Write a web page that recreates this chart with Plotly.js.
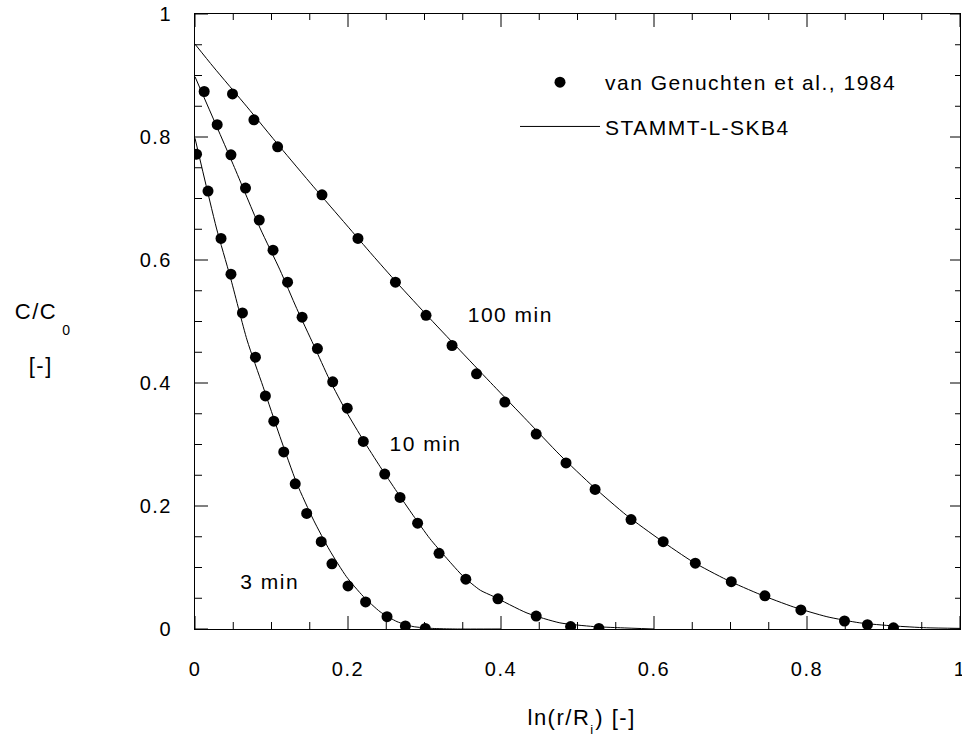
<!DOCTYPE html>
<html>
<head>
<meta charset="utf-8">
<script src="https://cdn.plot.ly/plotly-3.0.1.min.js"></script>
<style>
  html, body { margin: 0; padding: 0; background: #fff; }
  #chart { width: 962px; height: 740px; }
  #chart text { letter-spacing: 1.5px; }
  #chart .legend .scrollbox { clip-path: none !important; }
</style>
</head>
<body>
<div id="chart"></div>
<script>
// ---- measured data points (van Genuchten et al., 1984) ----
const obs3x   = [0.002, 0.017, 0.034, 0.047, 0.062, 0.079, 0.092, 0.103, 0.116, 0.131, 0.146, 0.165, 0.179, 0.200, 0.223, 0.251, 0.275, 0.301];
const obs3y   = [0.772, 0.712, 0.635, 0.577, 0.514, 0.442, 0.379, 0.338, 0.288, 0.236, 0.188, 0.142, 0.106, 0.070, 0.044, 0.020, 0.005, 0.001];
const obs10x  = [0.012, 0.029, 0.047, 0.066, 0.084, 0.102, 0.121, 0.140, 0.160, 0.180, 0.199, 0.220, 0.248, 0.268, 0.291, 0.319, 0.354, 0.396, 0.446, 0.491, 0.528];
const obs10y  = [0.874, 0.820, 0.771, 0.717, 0.665, 0.616, 0.564, 0.507, 0.456, 0.402, 0.359, 0.305, 0.252, 0.214, 0.172, 0.123, 0.081, 0.049, 0.021, 0.004, 0.001];
const obs100x = [0.049, 0.077, 0.108, 0.166, 0.213, 0.262, 0.302, 0.336, 0.368, 0.405, 0.446, 0.485, 0.523, 0.570, 0.612, 0.654, 0.701, 0.745, 0.792, 0.849, 0.879, 0.913];
const obs100y = [0.870, 0.828, 0.784, 0.706, 0.635, 0.564, 0.510, 0.461, 0.415, 0.369, 0.317, 0.270, 0.227, 0.178, 0.142, 0.107, 0.077, 0.054, 0.031, 0.013, 0.007, 0.002];

// ---- model curves (STAMMT-L-SKB4) ----
const mod3x   = [0, 0.028, 0.046, 0.068, 0.089, 0.111, 0.133, 0.155, 0.176, 0.198, 0.220, 0.242, 0.264, 0.285, 0.310, 0.340, 0.400];
const mod3y   = [0.798, 0.652, 0.573, 0.470, 0.394, 0.313, 0.237, 0.177, 0.128, 0.085, 0.053, 0.028, 0.012, 0.004, 0.001, 0.000, 0.000];
const mod10x  = [0, 0.050, 0.085, 0.111, 0.133, 0.155, 0.176, 0.198, 0.220, 0.242, 0.264, 0.285, 0.307, 0.329, 0.351, 0.373, 0.390, 0.434, 0.477, 0.521, 0.556, 0.600];
const mod10y  = [0.898, 0.755, 0.652, 0.584, 0.521, 0.462, 0.405, 0.353, 0.307, 0.264, 0.223, 0.185, 0.147, 0.115, 0.085, 0.063, 0.053, 0.026, 0.010, 0.004, 0.002, 0.000];
const mod100x = [0, 0.024, 0.068, 0.111, 0.155, 0.198, 0.232, 0.264, 0.307, 0.351, 0.390, 0.434, 0.477, 0.521, 0.564, 0.608, 0.651, 0.695, 0.739, 0.782, 0.826, 0.869, 0.913, 0.956, 1.000];
const mod100y = [0.951, 0.914, 0.849, 0.784, 0.719, 0.657, 0.608, 0.563, 0.505, 0.447, 0.396, 0.339, 0.283, 0.231, 0.185, 0.145, 0.109, 0.080, 0.056, 0.036, 0.020, 0.010, 0.005, 0.002, 0.001];

// ---- axis ticks / labels ----
const majorTicks = [0, 0.2, 0.4, 0.6, 0.8, 1];
const majorLabels = ['0', '0.2', '0.4', '0.6', '0.8', '1'];
const minorTicks = [0.05, 0.1, 0.15, 0.25, 0.3, 0.35, 0.45, 0.5, 0.55, 0.65, 0.7, 0.75, 0.85, 0.9, 0.95];

const curveLabels = ['3 min', '10 min', '100 min'];
const curveLabelX = [0.098, 0.301, 0.413];
const curveLabelY = [0.077, 0.302, 0.511];
const legendNames = ['van Genuchten et al., 1984', 'STAMMT-L-SKB4'];

const FONT = 'Liberation Sans, Arial, sans-serif';
const PL = 195, PT = 14, PW = 765, PH = 615;   // plot frame in px
const px = v => (v - PL) / PW;                // pixel -> paper x
const py = v => (PT + PH - v) / PH;            // pixel -> paper y

function obsTrace(x, y, show) {
  return { x: x, y: y, type: 'scatter', mode: 'markers', name: legendNames[0],
    legendgroup: 'obs', showlegend: show, legendrank: 1,
    marker: { color: '#000', size: 11, symbol: 'circle' } };
}
function modTrace(x, y, show) {
  return { x: x, y: y, type: 'scatter', mode: 'lines', name: legendNames[1],
    legendgroup: 'mod', showlegend: show, legendrank: 2,
    line: { color: '#000', width: 1, shape: 'spline', smoothing: 0.6 } };
}

// inside tick marks on all four sides, built from the tick value arrays
// (axis range is [0,1] on both axes, so pixel lengths convert directly)
const tickLen = { b: [13, 7], t: [13, 6], l: [13, 7], r: [10, 5] };
const tx = [], ty = [];
function addTick(side, v, len) {
  if (side === 'b') { tx.push(v, v, null); ty.push(0, len / PH, null); }
  if (side === 't') { tx.push(v, v, null); ty.push(1, 1 - len / PH, null); }
  if (side === 'l') { tx.push(0, len / PW, null); ty.push(v, v, null); }
  if (side === 'r') { tx.push(1, 1 - len / PW, null); ty.push(v, v, null); }
}
for (const side of ['b', 't', 'l', 'r']) {
  majorTicks.forEach(v => addTick(side, v, tickLen[side][0]));
  minorTicks.forEach(v => addTick(side, v, tickLen[side][1]));
}
const tickTrace = { x: tx, y: ty, type: 'scatter', mode: 'lines', showlegend: false,
  hoverinfo: 'skip', cliponaxis: false, connectgaps: false,
  line: { color: '#000', width: 1 } };

const data = [
  modTrace(mod3x, mod3y, true),
  modTrace(mod10x, mod10y, false),
  modTrace(mod100x, mod100y, false),
  obsTrace(obs3x, obs3y, true),
  obsTrace(obs10x, obs10y, false),
  obsTrace(obs100x, obs100y, false),
  tickTrace
];

function axis(standoff) {
  return {
    range: [0, 1], tickmode: 'array', tickvals: majorTicks, ticktext: majorLabels,
    showgrid: false, zeroline: false,
    showline: true, linecolor: '#000', linewidth: 1, mirror: true,
    ticks: '',
    tickfont: { family: FONT, size: 20, color: '#000' },
    ticklabeloverflow: 'allow',
    ticklabelstandoff: standoff
  };
}

const annotations = [];
for (let i = 0; i < curveLabels.length; i++) {
  annotations.push({ x: curveLabelX[i], y: curveLabelY[i], xref: 'x', yref: 'y',
    text: curveLabels[i], showarrow: false, xanchor: 'center', yanchor: 'middle',
    font: { family: FONT, size: 21, color: '#000' } });
}
// y axis title: C/C0 [-]
annotations.push({ x: px(57), y: py(311), xref: 'paper', yref: 'paper', text: 'C/C',
  showarrow: false, xanchor: 'right', yanchor: 'middle', font: { family: FONT, size: 22, color: '#000' } });
annotations.push({ x: px(67), y: py(330), xref: 'paper', yref: 'paper', text: '0',
  showarrow: false, xanchor: 'center', yanchor: 'middle', font: { family: FONT, size: 14, color: '#000' } });
annotations.push({ x: px(41), y: py(365), xref: 'paper', yref: 'paper', text: '[-]',
  showarrow: false, xanchor: 'center', yanchor: 'middle', font: { family: FONT, size: 22, color: '#000' } });
// x axis title: ln(r/Ri) [-]
annotations.push({ x: px(588), y: py(717), xref: 'paper', yref: 'paper', text: 'ln(r/R',
  showarrow: false, xanchor: 'right', yanchor: 'middle', font: { family: FONT, size: 22, color: '#000' } });
annotations.push({ x: px(592), y: py(729), xref: 'paper', yref: 'paper', text: 'i',
  showarrow: false, xanchor: 'center', yanchor: 'middle', font: { family: FONT, size: 13, color: '#000' } });
annotations.push({ x: px(597), y: py(717), xref: 'paper', yref: 'paper', text: ') [-]',
  showarrow: false, xanchor: 'left', yanchor: 'middle', font: { family: FONT, size: 22, color: '#000' } });

const layout = {
  width: 962, height: 740,
  margin: { l: PL, r: 962 - PL - PW, t: PT, b: 740 - PT - PH, pad: 0 },
  font: { family: FONT, size: 21, color: '#000' },
  xaxis: axis(22),
  yaxis: axis(18),
  showlegend: true,
  legend: {
    x: px(515), y: py(62), xref: 'paper', yref: 'paper', xanchor: 'left', yanchor: 'top',
    bgcolor: 'rgba(0,0,0,0)', borderwidth: 0, itemwidth: 80,
    traceorder: 'grouped', tracegroupgap: 14,
    font: { family: FONT, size: 21, color: '#000' }
  },
  annotations: annotations
};

Plotly.newPlot('chart', data, layout, { displayModeBar: false });
</script>
</body>
</html>
